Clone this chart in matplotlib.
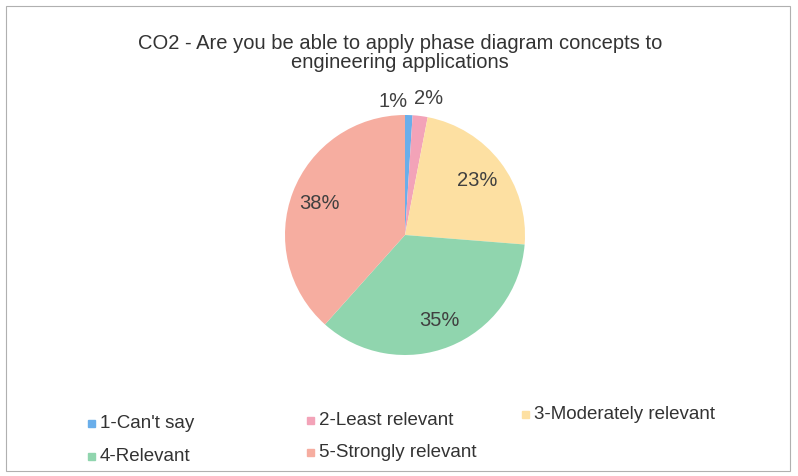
import matplotlib.pyplot as plt
from matplotlib.patches import Rectangle

# Data
labels = ["1-Can't say", "2-Least relevant", "3-Moderately relevant",
          "4-Relevant", "5-Strongly relevant"]
values = [1, 2, 23, 35, 38]
colors = ['#6aaeea', '#f3a3b8', '#fde0a2', '#90d5ae', '#f6ada0']
title = "CO2 - Are you be able to apply phase diagram concepts to\nengineering applications"

plt.rcParams['font.family'] = ['Liberation Sans', 'DejaVu Sans']

W, H = 798, 477
fig = plt.figure(figsize=(W / 100, H / 100), dpi=100)

# outer chart frame
fig.patches.append(Rectangle((6 / W, 5 / H), 784 / W, 465 / H, transform=fig.transFigure,
                             fill=False, edgecolor='#b0b0b0', linewidth=0.8))

fig.text(400 / W, 1 - 53 / H, title, ha='center', va='center',
         fontsize=14.5, color='#333333', linespacing=1.05)

# pie: centre (405, 236), radius 120 px
ax = fig.add_axes([(405 - 120) / W, 1 - (236 + 120) / H, 240 / W, 240 / H])
wedges, texts, pcts = ax.pie(values, colors=colors, startangle=90, counterclock=False,
                             autopct='%d%%', pctdistance=0.76,
                             textprops=dict(fontsize=14.5, color='#404040'))
ax.set_xlim(-1, 1)
ax.set_ylim(-1, 1)
ax.set_aspect('equal')

# small slices labelled outside
pcts[0].set_position((-0.1, 1.12))
pcts[1].set_position((0.2, 1.15))

# legend drawn manually (row-major)
leg_pos = [(92, 424), (311, 421), (526, 415), (92, 457), (311, 453)]
for lab, col, (x, y) in zip(labels, colors, leg_pos):
    fig.patches.append(Rectangle(((x - 4) / W, 1 - (y + 4) / H), 7 / W, 7 / H,
                                 transform=fig.transFigure, color=col))
    fig.text((x + 8) / W, 1 - y / H, lab, ha='left', va='center',
             fontsize=13.5, color='#333333')

fig.savefig('out.png', dpi=100)
